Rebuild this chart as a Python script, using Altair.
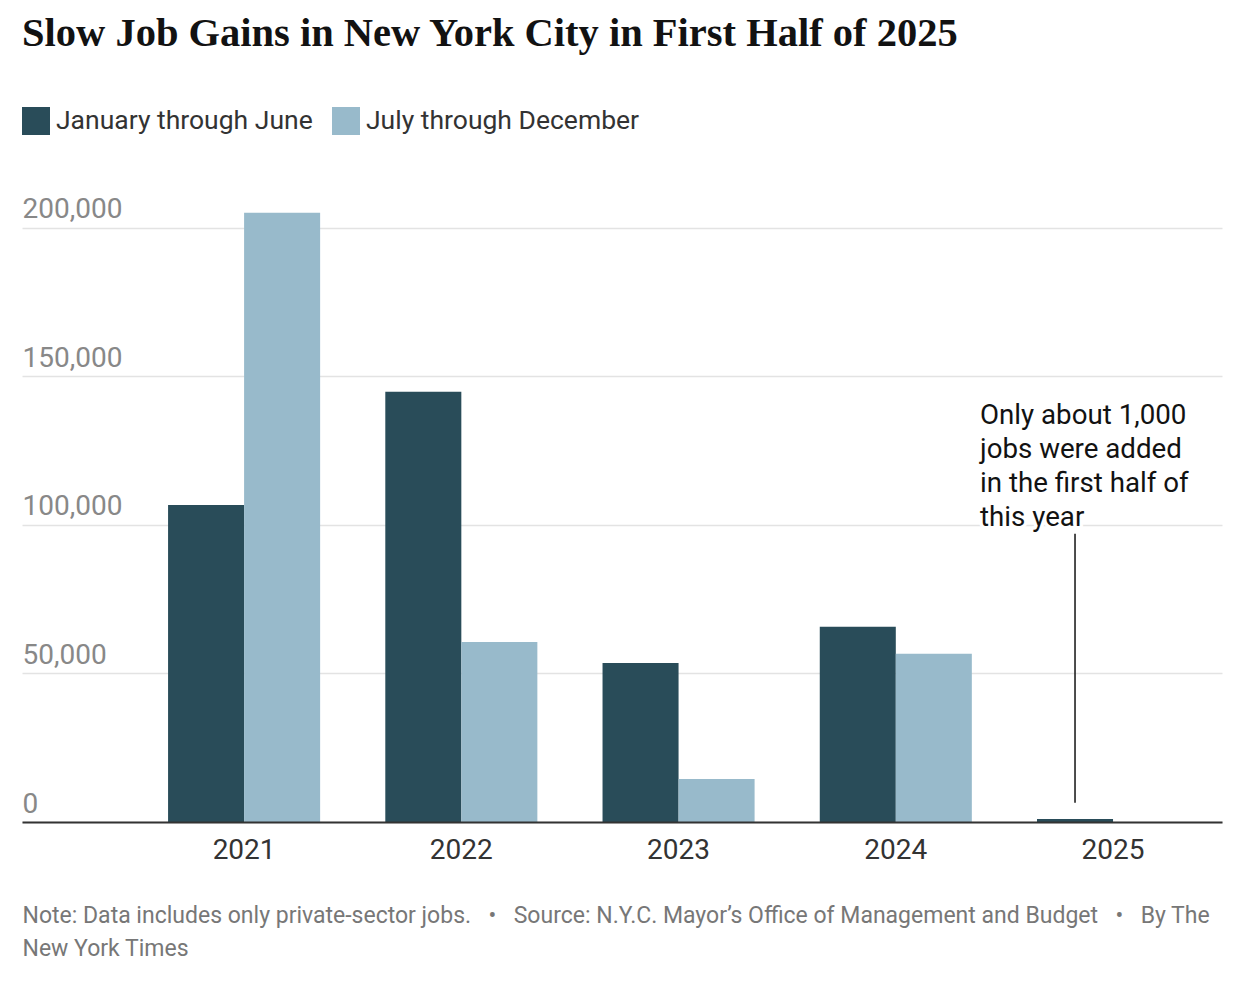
import altair as alt
import pandas as pd

# Private-sector job gains in New York City, by half-year
years = ["2021", "2022", "2023", "2024", "2025"]
jan_jun = [106700, 144800, 53500, 65700, 1000]
jul_dec = [205000, 60600, 14500, 56600, None]
periods = ["January through June", "July through December"]
period_colors = ["#294c59", "#98bacb"]
y_ticks = [0, 50000, 100000, 150000, 200000]

# Callout for the 2025 bar
note_lines = ["Only about 1,000", "jobs were added", "in the first half of", "this year"]
note_year = "2025"
note_text_y = [134000]
note_rule_top = [97000]
note_rule_bottom = [6500]

title_text = "Slow Job Gains in New York City in First Half of 2025"
SEP = "\u00a0\u2002\u2022\u2002\u00a0"  # non-collapsing spaces around the bullet
footer_lines = [
    "Note: Data includes only private-sector jobs." + SEP
    + "Source: N.Y.C. Mayor\u2019s Office of Management and Budget" + SEP + "By The",
    "New York Times",
]

SANS = "Roboto, 'Open Sans', 'Liberation Sans', sans-serif"
SERIF = "'Liberation Serif', 'DejaVu Serif', serif"

rows = []
for yr, a, b in zip(years, jan_jun, jul_dec):
    rows.append({"year": yr, "period": periods[0], "jobs": a})
    if b is not None:
        rows.append({"year": yr, "period": periods[1], "jobs": b})
bars_df = pd.DataFrame(rows)

note_df = pd.DataFrame({
    "year": [note_year],
    "period": [periods[0]],
    "text_y": note_text_y,
    "top": note_rule_top,
    "bottom": note_rule_bottom,
    "label": ["\n".join(note_lines)],
})

x_enc = alt.X(
    "year:N",
    scale=alt.Scale(domain=years, paddingInner=0.3, paddingOuter=0.412, align=0.816),
    axis=alt.Axis(
        title=footer_lines,
        titleAnchor="start",
        titleAlign="left",
        titleBaseline="alphabetic",
        titleX=0,
        titleY=100,
        titleFont=SANS,
        titleFontSize=23,
        titleFontWeight="normal",
        titleColor="#777777",
        titleLineHeight=33,
        labelAngle=0,
        labelFont=SANS,
        labelFontSize=28,
        labelColor="#333333",
        labelPadding=14,
        ticks=False,
        domainColor="#333333",
        domainWidth=2,
        zindex=1,
    ),
)
xoff_enc = alt.XOffset("period:N", scale=alt.Scale(domain=periods, paddingInner=0, paddingOuter=0))

y_axis = alt.Axis(
    values=y_ticks,
    format=",d",
    title=None,
    domain=False,
    ticks=False,
    tickSize=0,
    labelAlign="left",
    labelBaseline="alphabetic",
    labelPadding=0,
    labelOffset=-10,
    labelFont=SANS,
    labelFontSize=28,
    labelColor="#888888",
    gridColor="#e3e3e3",
    gridWidth=1.5,
)
y_scale = alt.Scale(domain=[0, 210000], nice=False)

bars = alt.Chart(bars_df).mark_bar(strokeWidth=0).encode(
    x=x_enc,
    xOffset=xoff_enc,
    y=alt.Y("jobs:Q", scale=y_scale, axis=y_axis),
    color=alt.Color(
        "period:N",
        scale=alt.Scale(domain=periods, range=period_colors),
        legend=alt.Legend(
            orient="none",
            legendX=0,
            legendY=-91,
            direction="horizontal",
            title=None,
            symbolType="square",
            symbolSize=784,
            symbolStrokeWidth=0,
            symbolOpacity=1,
            labelFont=SANS,
            labelFontSize=26.5,
            labelColor="#333333",
            labelLimit=0,
            labelOffset=6,
            columnPadding=19,
        ),
    ),
)

rule = alt.Chart(note_df).mark_rule(color="#121212", strokeWidth=1.5).encode(
    x=x_enc,
    xOffset=xoff_enc,
    y=alt.Y("top:Q", scale=y_scale, axis=y_axis),
    y2="bottom:Q",
)

text_style = dict(
    align="left",
    baseline="alphabetic",
    dx=-95,
    lineBreak="\n",
    lineHeight=34,
    font=SANS,
    fontSize=27.7,
)
halo = alt.Chart(note_df).mark_text(
    color="white", stroke="white", strokeWidth=7, strokeJoin="round", **text_style
).encode(
    x=x_enc,
    xOffset=xoff_enc,
    y=alt.Y("text_y:Q", scale=y_scale, axis=y_axis),
    text="label:N",
)
note = alt.Chart(note_df).mark_text(color="#121212", **text_style).encode(
    x=x_enc,
    xOffset=xoff_enc,
    y=alt.Y("text_y:Q", scale=y_scale, axis=y_axis),
    text="label:N",
)

chart = alt.layer(bars, rule, halo, note).properties(
    width=1200,
    height=624,
    background="white",
    padding={"left": 22, "top": 198, "right": 20, "bottom": 162},
    autosize=alt.AutoSizeParams(type="none"),
    title=alt.TitleParams(
        text=title_text,
        anchor="start",
        frame="group",
        baseline="alphabetic",
        offset=21,
        font=SERIF,
        fontSize=40.5,
        fontWeight="bold",
        color="#121212",
    ),
).configure_view(stroke="transparent", strokeWidth=0)

chart.save("out.html", embed_options={"renderer": "svg", "actions": False})
